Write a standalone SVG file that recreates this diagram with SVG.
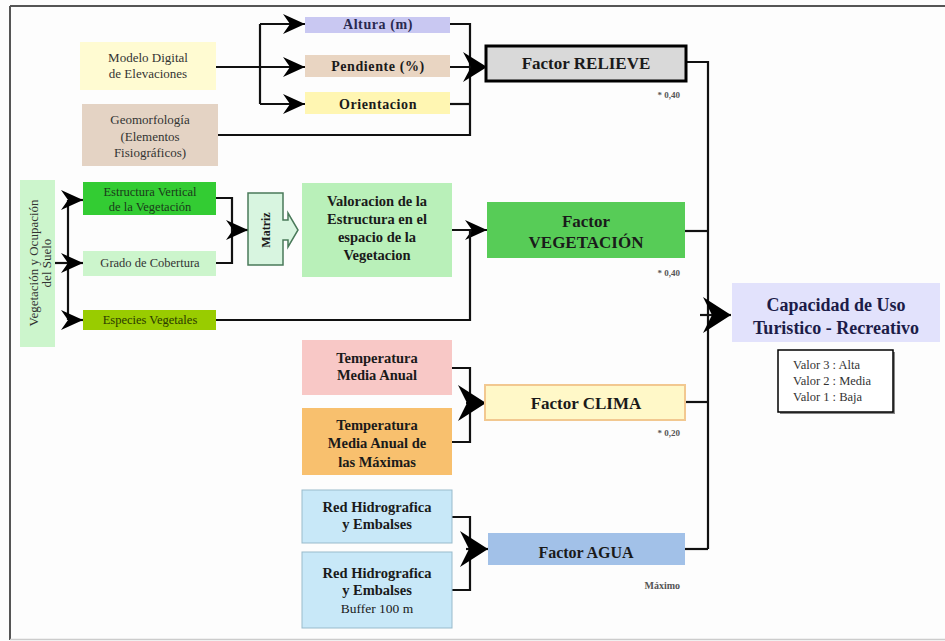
<svg xmlns="http://www.w3.org/2000/svg" width="945" height="641" viewBox="0 0 945 641">
<style>
text{font-family:"Liberation Serif","Times New Roman",serif;fill:#1a1a1a;text-anchor:middle}
.b{font-weight:bold}
.n{font-size:13px;fill:#333}
.m{font-size:14px;font-weight:bold;letter-spacing:0.6px}
.mid{font-size:14.5px;font-weight:bold}
.f{font-size:17px;font-weight:bold}
.w{font-size:9px;font-weight:bold;fill:#555;text-anchor:end}
.ln{fill:none;stroke:#111;stroke-width:2.2}
</style>
<defs>
<marker id="a" markerUnits="userSpaceOnUse" markerWidth="23" markerHeight="20" refX="22" refY="10" orient="auto">
<path d="M0,0 L22,10 L0,20 L7,10 Z" fill="#000"/>
</marker>
<marker id="m" markerUnits="userSpaceOnUse" markerWidth="25" markerHeight="30" refX="24" refY="15" orient="auto">
<path d="M0,0 L24,15 L0,30 L8,15 Z" fill="#000"/>
</marker>
<marker id="big" markerUnits="userSpaceOnUse" markerWidth="29" markerHeight="36" refX="28" refY="18" orient="auto">
<path d="M0,0 L28,18 L0,36 L9,18 Z" fill="#000"/>
</marker>
</defs>
<rect width="945" height="641" fill="#fdfdfd"/>
<line x1="10" y1="6" x2="945" y2="6" stroke="#555" stroke-width="2"/>
<line x1="10" y1="6" x2="10" y2="640" stroke="#555" stroke-width="2"/>
<line x1="10" y1="639.5" x2="945" y2="639.5" stroke="#ccc" stroke-width="1.5"/>

<g id="connectors">
<path class="ln" d="M215,67 H305" marker-end="url(#a)"/>
<path class="ln" d="M260,24 V104"/>
<path class="ln" d="M260,24 H305" marker-end="url(#a)"/>
<path class="ln" d="M260,104 H305" marker-end="url(#a)"/>
<path class="ln" d="M450,24 H470 V135 H218"/>
<path class="ln" d="M450,104 H470"/>
<path class="ln" d="M450,67 H487" marker-end="url(#m)"/>
<path class="ln" d="M687,62 H708 V549"/>
<path class="ln" d="M700,315 H731" marker-end="url(#big)"/>
<path class="ln" d="M68,200 V320"/>
<path class="ln" d="M55,263 H83" marker-end="url(#a)"/>
<path class="ln" d="M68,200 H83" marker-end="url(#a)"/>
<path class="ln" d="M68,320 H83" marker-end="url(#a)"/>
<path class="ln" d="M216,198 H232 V263 H216"/>
<path class="ln" d="M232,230 H248" marker-end="url(#a)"/>
<path class="ln" d="M452,230 H487" marker-end="url(#a)"/>
<path class="ln" d="M216,320 H470 V230"/>
<path class="ln" d="M685,231 H708"/>
<path class="ln" d="M452,368 H470 V442 H452"/>
<path class="ln" d="M466,403 H486" marker-end="url(#big)"/>
<path class="ln" d="M685,402 H708"/>
<path class="ln" d="M452,517 H470 V590 H452"/>
<path class="ln" d="M466,549 H488" marker-end="url(#big)"/>
<path class="ln" d="M685,549 H708"/>
</g>

<g id="modelo">
<rect x="80" y="42" width="136" height="48" fill="#fffbd2"/>
<text class="n" x="148" y="62">Modelo Digital</text>
<text class="n" x="148" y="78">de Elevaciones</text>
</g>
<g id="geomorfologia">
<rect x="82" y="104" width="136" height="62" fill="#e4d3c4"/>
<text class="n" x="150" y="124">Geomorfología</text>
<text class="n" x="150" y="141">(Elementos</text>
<text class="n" x="150" y="157">Fisiográficos)</text>
</g>
<g id="altura">
<rect x="305" y="17" width="145" height="16" fill="#c9c8f2"/>
<text class="m" x="378" y="29" style="fill:#2a2a50">Altura (m)</text>
</g>
<g id="pendiente">
<rect x="305" y="55" width="145" height="22" fill="#e9d5c2"/>
<text class="m" x="378" y="71">Pendiente (%)</text>
</g>
<g id="orientacion">
<rect x="305" y="92" width="145" height="22" fill="#fff6b2"/>
<text class="m" x="378" y="109">Orientacion</text>
</g>
<g id="relieve">
<rect x="486" y="46" width="200" height="35" fill="#d9d9d9" stroke="#000" stroke-width="3"/>
<text class="f" x="586" y="69">Factor RELIEVE</text>
<text class="w" x="680" y="98">* 0,40</text>
</g>

<g id="vegocup">
<rect x="20" y="180" width="35" height="167" fill="#ccf5cc"/>
<g transform="translate(38,263) rotate(-90)">
<text class="n" x="0" y="0">Vegetación y Ocupación</text>
<text class="n" x="0" y="13">del Suelo</text>
</g>
</g>
<g id="estructura">
<rect x="83" y="182" width="133" height="33" fill="#33cc33"/>
<text class="n" x="150" y="196" style="font-size:12.5px;fill:#1a3a1a">Estructura Vertical</text>
<text class="n" x="150" y="211" style="font-size:12.5px;fill:#1a3a1a">de la Vegetación</text>
</g>
<g id="grado">
<rect x="83" y="251" width="133" height="25" fill="#ccf5cc"/>
<text class="n" x="150" y="267" style="font-size:12.5px">Grado de Cobertura</text>
</g>
<g id="especies">
<rect x="83" y="310" width="133" height="20" fill="#99cc00"/>
<text class="n" x="150" y="324" style="font-size:12.5px;fill:#2a3a00">Especies Vegetales</text>
</g>
<g id="matriz">
<path d="M248,193 H283 V220 H288 V213 L298,230 L288,247 V240 H283 V265 H248 Z" fill="#d8f5e0" stroke="#4a7a5a" stroke-width="1.5"/>
<text class="b" transform="translate(270,230) rotate(-90)" x="0" y="0" style="font-size:12px">Matriz</text>
</g>
<g id="valoracion">
<rect x="302" y="183" width="150" height="94" fill="#b9f0b9"/>
<text class="mid" x="377" y="206">Valoracion de la</text>
<text class="mid" x="377" y="224">Estructura en el</text>
<text class="mid" x="377" y="242">espacio de la</text>
<text class="mid" x="377" y="260">Vegetacion</text>
</g>
<g id="vegetacion">
<rect x="487" y="202" width="198" height="56" fill="#57cc57"/>
<text class="f" x="586" y="227">Factor</text>
<text class="f" x="586" y="248">VEGETACIÓN</text>
<text class="w" x="680" y="276">* 0,40</text>
</g>

<g id="tempmedia">
<rect x="302" y="340" width="150" height="55" fill="#f8c8c6"/>
<text class="mid" x="377" y="363">Temperatura</text>
<text class="mid" x="377" y="380">Media Anual</text>
</g>
<g id="tempmax">
<rect x="302" y="408" width="150" height="67" fill="#f8c06e"/>
<text class="mid" x="377" y="430">Temperatura</text>
<text class="mid" x="377" y="448">Media Anual de</text>
<text class="mid" x="377" y="467">las Máximas</text>
</g>
<g id="clima">
<rect x="485" y="385" width="200" height="35" fill="#fff8c8" stroke="#f2c890" stroke-width="2"/>
<text class="f" x="586" y="409">Factor CLIMA</text>
<text class="w" x="680" y="436">* 0,20</text>
</g>

<g id="red1">
<rect x="302" y="490" width="150" height="53" fill="#c8e8f8" stroke="#9bc" stroke-width="1"/>
<text class="mid" x="377" y="512">Red Hidrografica</text>
<text class="mid" x="377" y="529">y Embalses</text>
</g>
<g id="red2">
<rect x="302" y="552" width="150" height="76" fill="#c8e8f8" stroke="#9bc" stroke-width="1"/>
<text class="mid" x="377" y="578">Red Hidrografica</text>
<text class="mid" x="377" y="595">y Embalses</text>
<text x="377" y="613" style="font-size:13.5px">Buffer 100 m</text>
</g>
<g id="agua">
<rect x="488" y="533" width="197" height="32" fill="#a2c1e8"/>
<text class="f" x="586" y="558" style="font-size:16px">Factor AGUA</text>
<text class="w" x="680" y="589" style="font-size:10px">Máximo</text>
</g>

<g id="capacidad">
<rect x="732" y="283" width="208" height="59" fill="#e2e2fc"/>
<text class="b" x="836" y="311" style="font-size:18px;fill:#1c1c48">Capacidad de Uso</text>
<text class="b" x="836" y="334" style="font-size:18px;fill:#1c1c48">Turistico - Recreativo</text>
</g>
<g id="valores">
<rect x="780" y="352" width="115" height="62" fill="#888"/>
<rect x="778" y="350" width="115" height="62" fill="#fff" stroke="#000" stroke-width="1.5"/>
<text x="793" y="369" style="font-size:12.5px;text-anchor:start;fill:#333">Valor 3 : Alta</text>
<text x="793" y="385" style="font-size:12.5px;text-anchor:start;fill:#333">Valor 2 : Media</text>
<text x="793" y="401" style="font-size:12.5px;text-anchor:start;fill:#333">Valor 1 : Baja</text>
</g>
</svg>
